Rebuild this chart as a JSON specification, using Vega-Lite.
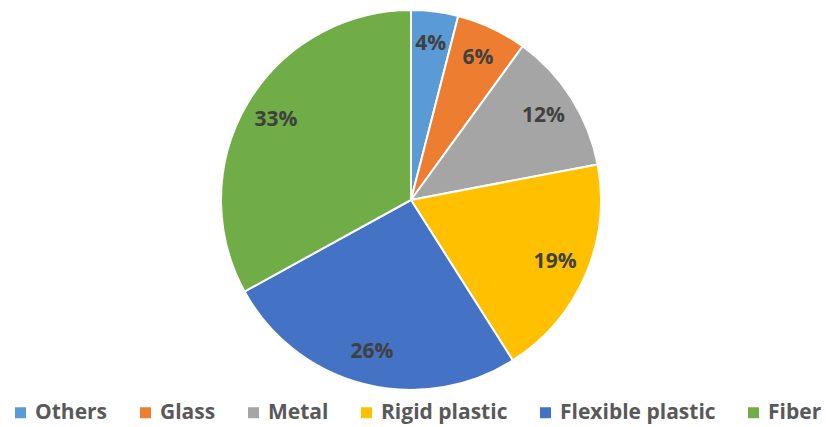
{
  "$schema": "https://vega.github.io/schema/vega-lite/v6.json",
  "width": 822,
  "height": 400,
  "autosize": {"type": "none"},
  "padding": {"left": 0, "top": 0, "right": 4, "bottom": 27},
  "background": "white",
  "data": {"values": [
    {"category": "Others", "value": 4, "label": "4%", "idx": 1},
    {"category": "Glass", "value": 6, "label": "6%", "idx": 2},
    {"category": "Metal", "value": 12, "label": "12%", "idx": 3},
    {"category": "Rigid plastic", "value": 19, "label": "19%", "idx": 4},
    {"category": "Flexible plastic", "value": 26, "label": "26%", "idx": 5},
    {"category": "Fiber", "value": 33, "label": "33%", "idx": 6}
  ]},
  "encoding": {
    "theta": {"field": "value", "type": "quantitative", "stack": true},
    "order": {"field": "idx", "type": "quantitative"}
  },
  "layer": [
    {
      "mark": {"type": "arc", "outerRadius": 190, "stroke": "white", "strokeWidth": 2},
      "encoding": {
        "color": {
          "field": "category", "type": "nominal",
          "scale": {
            "domain": ["Others", "Glass", "Metal", "Rigid plastic", "Flexible plastic", "Fiber"],
            "range": ["#5B9BD5", "#ED7D31", "#A5A5A5", "#FFC000", "#4472C4", "#70AD47"]
          },
          "legend": {
            "title": null,
            "orient": "none",
            "legendX": 10,
            "legendY": 402,
            "padding": 0,
            "direction": "horizontal",
            "columns": 6,
            "symbolType": "square",
            "symbolSize": 121,
            "symbolStrokeWidth": 0,
            "labelFont": "Open Sans",
            "labelFontSize": 21,
            "labelFontWeight": "bold",
            "labelColor": "#595959",
            "labelOffset": 4,
            "columnPadding": 27,
            "labelLimit": 300
          }
        }
      }
    },
    {
      "mark": {"type": "text", "radius": 157, "font": "Open Sans", "fontSize": 21, "fontWeight": "bold", "fill": "#404040"},
      "encoding": {"text": {"field": "label", "type": "nominal"}}
    }
  ],
  "view": {"stroke": null}
}
